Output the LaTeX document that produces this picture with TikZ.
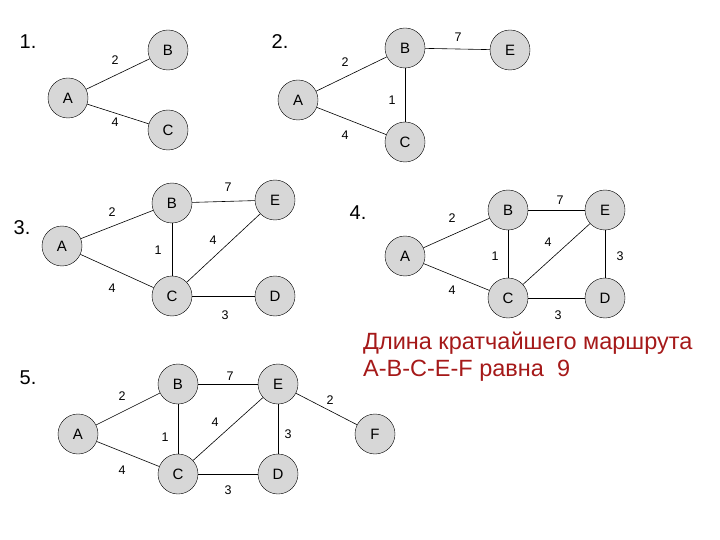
\documentclass[tikz,border=0pt]{standalone}
\usepackage{fontspec}
\setmainfont{Liberation Sans}
\definecolor{nodegray}{RGB}{215,215,215}
\definecolor{darkred}{RGB}{165,25,25}
\begin{document}
\begin{tikzpicture}[x=1pt,y=-1pt,
  vert/.style={circle,draw,fill=nodegray,minimum size=40pt,inner sep=0pt,font=\fontsize{15}{15}\selectfont},
  wt/.style={font=\fontsize{12.5}{12.5}\selectfont},
  ttl/.style={font=\fontsize{20}{20}\selectfont},
  edge/.style={draw,line width=0.6pt}]
\useasboundingbox (0,0) rectangle (720,540);
% Panel 1
\node[ttl] (t1) at (28,42) {1.};
\node[vert] (a1) at (68,98) {A};
\node[vert] (b1) at (168,50) {B};
\node[vert] (c1) at (168,130) {C};
\node[wt] (w11) at (115,60) {2};
\node[wt] (w12) at (115,122) {4};
% Panel 2
\node[ttl] (t2) at (280,42) {2.};
\node[vert] (a2) at (298,100) {A};
\node[vert] (b2) at (405,48) {B};
\node[vert] (c2) at (405,142) {C};
\node[vert] (e2) at (510,50) {E};
\node[wt] (w21) at (345,62) {2};
\node[wt] (w22) at (345,135) {4};
\node[wt] (w23) at (392,100) {1};
\node[wt] (w24) at (458,37) {7};
% Panel 3
\node[ttl] (t3) at (22,228) {3.};
\node[vert] (a3) at (62,246) {A};
\node[vert] (b3) at (172,203) {B};
\node[vert] (c3) at (172,296) {C};
\node[vert] (e3) at (275,200) {E};
\node[vert] (d3) at (275,296) {D};
\node[wt] (w31) at (112,212) {2};
\node[wt] (w32) at (112,288) {4};
\node[wt] (w33) at (158,250) {1};
\node[wt] (w34) at (228,187) {7};
\node[wt] (w35) at (213,240) {4};
\node[wt] (w36) at (225,315) {3};
% Panel 4
\node[ttl] (t4) at (358,213) {4.};
\node[vert] (a4) at (405,256) {A};
\node[vert] (b4) at (508,210) {B};
\node[vert] (c4) at (508,298) {C};
\node[vert] (e4) at (605,210) {E};
\node[vert] (d4) at (605,298) {D};
\node[wt] (w41) at (452,218) {2};
\node[wt] (w42) at (452,290) {4};
\node[wt] (w43) at (495,256) {1};
\node[wt] (w44) at (560,200) {7};
\node[wt] (w45) at (548,242) {4};
\node[wt] (w46) at (620,256) {3};
\node[wt] (w47) at (558,315) {3};
% Panel 5
\node[ttl] (t5) at (28,378) {5.};
\node[vert] (a5) at (78,434) {A};
\node[vert] (b5) at (178,384) {B};
\node[vert] (c5) at (178,474) {C};
\node[vert] (e5) at (278,384) {E};
\node[vert] (d5) at (278,474) {D};
\node[vert] (f5) at (375,434) {F};
\node[wt] (w51) at (122,396) {2};
\node[wt] (w52) at (122,470) {4};
\node[wt] (w53) at (165,437) {1};
\node[wt] (w54) at (230,376) {7};
\node[wt] (w55) at (215,422) {4};
\node[wt] (w56) at (288,434) {3};
\node[wt] (w57) at (228,490) {3};
\node[wt] (w58) at (330,400) {2};
% Text
\node[font=\fontsize{23.5}{27}\selectfont,text=darkred,align=left,anchor=north west,inner sep=0pt] (txt) at (363,332) {Длина кратчайшего маршрута\\A-B-C-E-F равна\ \ 9};
% Edges
\draw[edge] (a1)--(b1); \draw[edge] (a1)--(c1);
\draw[edge] (a2)--(b2); \draw[edge] (a2)--(c2); \draw[edge] (b2)--(c2); \draw[edge] (b2)--(e2);
\draw[edge] (a3)--(b3); \draw[edge] (a3)--(c3); \draw[edge] (b3)--(c3); \draw[edge] (b3)--(e3); \draw[edge] (c3)--(e3); \draw[edge] (c3)--(d3);
\draw[edge] (a4)--(b4); \draw[edge] (a4)--(c4); \draw[edge] (b4)--(c4); \draw[edge] (b4)--(e4); \draw[edge] (c4)--(e4); \draw[edge] (c4)--(d4); \draw[edge] (e4)--(d4);
\draw[edge] (a5)--(b5); \draw[edge] (a5)--(c5); \draw[edge] (b5)--(c5); \draw[edge] (b5)--(e5); \draw[edge] (c5)--(e5); \draw[edge] (c5)--(d5); \draw[edge] (e5)--(d5); \draw[edge] (e5)--(f5);
\end{tikzpicture}
\end{document}
